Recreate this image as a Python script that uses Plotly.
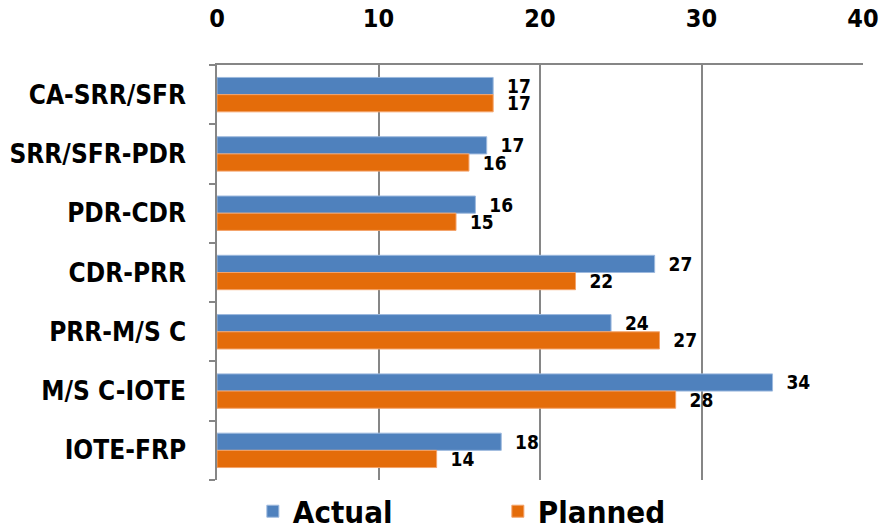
import plotly.graph_objects as go

categories = ["CA-SRR/SFR", "SRR/SFR-PDR", "PDR-CDR", "CDR-PRR", "PRR-M/S C", "M/S C-IOTE", "IOTE-FRP"]
actual = [17.1, 16.7, 16.0, 27.1, 24.4, 34.4, 17.6]
planned = [17.1, 15.6, 14.8, 22.2, 27.4, 28.4, 13.6]
x_ticks = [0, 10, 20, 30, 40]

FONT = "DejaVu Sans Condensed, DejaVu Sans, sans-serif"
LBL = "\u00a0\u00a0<b>%{x:.0f}</b>"

fig = go.Figure()
fig.add_trace(go.Bar(
    y=categories, x=actual, name="<b>Actual</b>", orientation="h",
    marker=dict(color="#4F81BD", line=dict(color="#9DB9DE", width=1)),
    texttemplate=LBL, textposition="outside", cliponaxis=False,
    constraintext="none",
    textfont=dict(size=19, color="black", family=FONT),
))
fig.add_trace(go.Bar(
    y=categories, x=planned, name="<b>Planned</b>", orientation="h",
    marker=dict(color="#E46C0A", line=dict(color="#F4A36A", width=1)),
    texttemplate=LBL, textposition="outside", cliponaxis=False,
    constraintext="none",
    textfont=dict(size=19, color="black", family=FONT),
))

fig.update_layout(
    width=880, height=529,
    margin=dict(l=217, r=17, t=65, b=49),
    paper_bgcolor="white", plot_bgcolor="white",
    barmode="group", bargap=0.42, bargroupgap=0,
    font=dict(family=FONT, color="black"),
    showlegend=True,
    legend=dict(orientation="h", x=0.0555, xanchor="left",
                yref="container", y=0.084, yanchor="top",
                font=dict(size=31, family=FONT),
                entrywidth=200, entrywidthmode="pixels",
                tracegroupgap=0, bgcolor="rgba(0,0,0,0)"),
    xaxis=dict(side="top", range=[0, 40], tickvals=x_ticks,
               ticktext=[f"<b>{v}</b>" for v in x_ticks],
               tickfont=dict(size=25, family=FONT),
               showgrid=True, gridcolor="#868686", gridwidth=1.5,
               showline=True, linecolor="#868686", linewidth=1.5,
               ticks="", ticklabelstandoff=26, zeroline=False,
               automargin=False, fixedrange=True),
    yaxis=dict(autorange="reversed", tickson="boundaries", ticks="outside",
               ticklen=6, tickcolor="#868686", tickwidth=1.5,
               showline=True, linecolor="#868686", linewidth=1.5,
               tickfont=dict(size=26, family=FONT),
               ticktext=[f"<b>{c}</b>" for c in categories], tickvals=categories,
               ticklabelstandoff=24, showgrid=False, automargin=False),
)

fig.write_html("out.html")
